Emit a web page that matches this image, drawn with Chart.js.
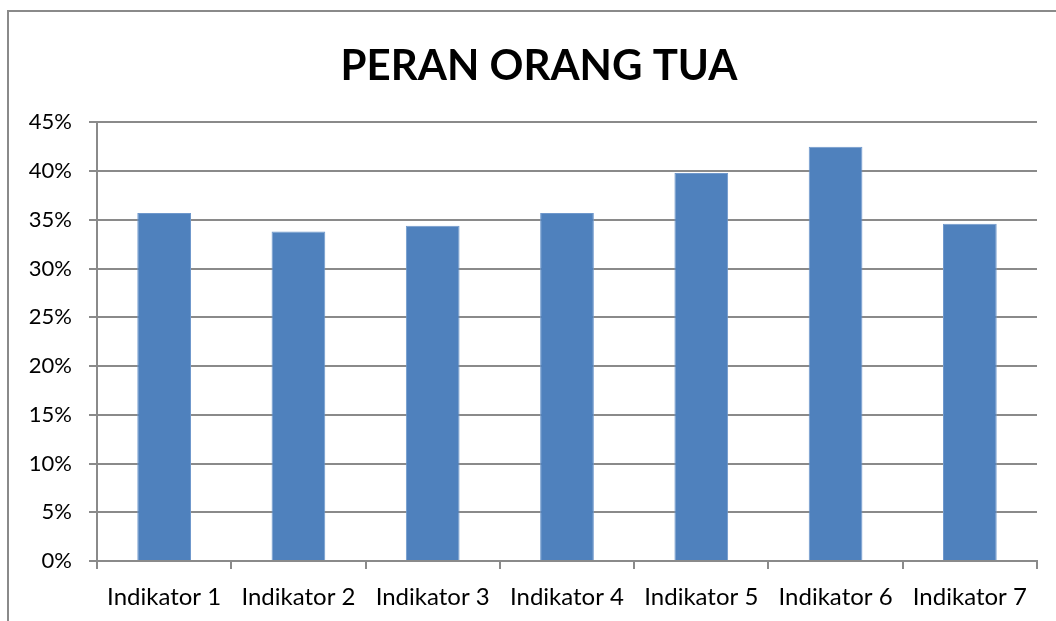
<!DOCTYPE html>
<html>
<head>
<meta charset="utf-8">
<script src="https://cdn.jsdelivr.net/npm/chart.js@4/dist/chart.umd.min.js"></script>
<style>
  html, body { margin: 0; padding: 0; background: #fff; }
  #wrap { width: 1056px; height: 621px; }
</style>
</head>
<body>
<div id="wrap"><canvas id="chart" width="1056" height="621"></canvas></div>
<script>
const chartTitle = "PERAN ORANG TUA";
const categories = ["Indikator 1", "Indikator 2", "Indikator 3", "Indikator 4", "Indikator 5", "Indikator 6", "Indikator 7"];
const values = [35.7, 33.8, 34.4, 35.7, 39.8, 42.5, 34.6];

const gridColor = "#8a8a8a";
const fontFamily = "Lato, 'Open Sans', sans-serif";

// outer frame of the chart object (cropped at right / bottom),
// and nudge the title a bit right like the original
const framePlugin = {
    id: "frame",
    afterLayout(chart) {
        if (chart.titleBlock) chart.titleBlock.left += 41;
    },
    beforeDraw(chart) {
        const ctx = chart.ctx;
        ctx.save();
        ctx.strokeStyle = "#8a8a8a";
        ctx.lineWidth = 2;
        ctx.strokeRect(8, 11, 1200, 800);
        ctx.restore();
    }
};

const ctx = document.getElementById("chart").getContext("2d");

new Chart(ctx, {
    type: "bar",
    data: {
        labels: categories,
        datasets: [{
            data: values,
            backgroundColor: "#4f81bd",
            borderColor: "#6f98cc",
            borderWidth: 1,
            categoryPercentage: 1,
            barPercentage: 0.4
        }]
    },
    options: {
        responsive: false,
        animation: false,
        layout: { padding: { left: 0, right: 19, top: 0, bottom: 0 } },
        plugins: {
            legend: { display: false },
            tooltip: { enabled: false },
            title: {
                display: true,
                text: chartTitle,
                color: "#000",
                font: { family: fontFamily, size: 42, weight: "bold" },
                padding: { top: 41, bottom: 31 }
            }
        },
        scales: {
            x: {
                afterFit(scale) { scale.height = 60; },
                grid: {
                    offset: true,
                    drawOnChartArea: false,
                    drawTicks: true,
                    tickLength: 8,
                    color: gridColor,
                    lineWidth: 2
                },
                border: { color: gridColor, width: 2 },
                ticks: { color: "#000", font: { family: fontFamily, size: 24 }, padding: 14, maxRotation: 0 }
            },
            y: {
                min: 0,
                max: 45,
                afterFit(scale) { scale.width = 97; },
                grid: {
                    color: gridColor,
                    lineWidth: 2,
                    tickLength: 8
                },
                border: { color: gridColor, width: 2 },
                ticks: {
                    stepSize: 5,
                    color: "#000",
                    font: { family: fontFamily, size: 22 },
                    padding: 17,
                    callback: v => v + "%"
                }
            }
        }
    },
    plugins: [framePlugin]
});
</script>
</body>
</html>
